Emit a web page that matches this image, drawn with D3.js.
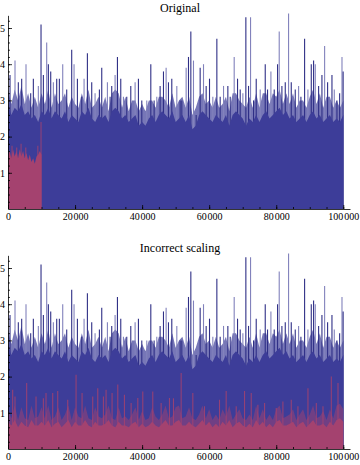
<!DOCTYPE html>
<html>
<head>
<meta charset="utf-8">
<script src="https://cdn.jsdelivr.net/npm/d3@7"></script>
<style>
    body { margin: 0; background: #fff; }
    svg { display: block; }
    .axis text { font-family: 'Liberation Serif', 'DejaVu Serif', serif; font-size: 10px; fill: #000; }
    .axis path, .axis line { stroke: #000; stroke-width: 0.8; }
    .title { font-family: 'Liberation Serif', 'DejaVu Serif', serif; font-size: 12px; }
</style>
</head>
<body>
<svg width="360" height="465"></svg>
<script>
// panel titles
const titles = ['Original', 'Incorrect scaling'];

// x ticks / y ticks
const xTicksMajor = [0, 20000, 40000, 60000, 80000, 100000];
const yTicksMajor = [1, 2, 3, 4, 5];

// blue series: dense body level and lighter fringe level, one reading every 1000
const blueBody = [2.9, 2.6, 2.8, 2.7, 2.9, 2.6, 2.7, 2.5, 2.6, 2.4, 2.7,
    2.6, 2.8, 2.5, 2.7, 2.6, 2.5, 2.7, 2.4, 2.6, 2.5,
    2.4, 2.7, 2.6, 2.8, 2.5, 2.4, 2.6, 2.5, 2.6, 2.4,
    2.7, 2.8, 2.7, 2.5, 2.6, 2.4, 2.5, 2.6, 2.3, 2.4,
    2.3, 2.5, 2.6, 2.4, 2.6, 2.7, 2.6, 2.5, 2.7, 2.4,
    2.5, 2.6, 2.4, 2.6, 2.2, 2.3, 2.6, 2.7, 2.6, 2.5,
    2.4, 2.6, 2.5, 2.4, 2.6, 2.3, 2.6, 2.7, 2.6, 2.5,
    2.3, 2.5, 2.4, 2.6, 2.4, 2.6, 2.7, 2.5, 2.6, 2.7,
    2.8, 2.6, 2.7, 2.5, 2.6, 2.4, 2.5, 2.6, 2.4, 2.6,
    2.7, 2.5, 2.6, 2.4, 2.5, 2.6, 2.4, 2.5, 2.4, 2.6];
const blueFringe = [3.3, 2.9, 3.3, 3.0, 3.4, 2.9, 3.2, 2.8, 3.1, 2.8, 3.2,
    2.9, 3.3, 2.8, 3.2, 2.9, 3.0, 3.2, 2.8, 3.1, 2.9,
    2.8, 3.2, 2.9, 3.3, 2.8, 2.9, 3.1, 2.8, 3.1, 2.7,
    3.2, 3.3, 3.2, 2.8, 3.1, 2.7, 3.0, 3.0, 2.7, 2.9,
    2.7, 3.0, 3.0, 2.8, 3.1, 3.1, 3.0, 2.8, 3.2, 2.8,
    3.0, 3.1, 2.8, 3.1, 2.6, 2.8, 3.1, 3.2, 2.9, 3.0,
    2.8, 3.1, 2.8, 2.9, 3.1, 2.7, 3.2, 3.2, 3.0, 2.9,
    2.8, 3.1, 2.8, 3.2, 2.8, 3.2, 3.2, 2.9, 3.2, 3.1,
    3.3, 2.9, 3.2, 2.9, 3.2, 2.8, 3.0, 3.0, 2.8, 3.1,
    3.3, 2.9, 3.2, 2.8, 3.1, 3.1, 2.8, 3.0, 2.8, 3.0];

// blue spikes (position, height)
const blueSpikeX = [600, 2090, 3080, 4080, 5370, 6770, 7560, 9050, 9850, 10550,
    11540, 12040, 12740, 13530, 14530, 15320, 16320, 17510, 19000, 19700,
    20700, 21990, 22690, 23680, 24970, 25970, 27260, 27960, 29650, 30450,
    30940, 31940, 32640, 33630, 34430, 35420, 36620, 37910, 38900, 39900,
    41390, 42590, 43580, 44380, 45370, 46370, 47160, 47860, 48850, 50350, 51340,
    51840, 53130, 53830, 54530, 55320, 56120, 57310, 58310, 59100, 60100,
    61090, 62290, 63280, 64280, 65570, 66270, 67460, 68460, 69250, 70050,
    70940, 71740, 72340, 73230, 74030, 75220, 76720, 77410, 78410, 79400,
    80400, 80890, 81690, 82690, 83680, 84480, 85670, 86670, 87360, 88460,
    89450, 90450, 91140, 91640, 92640, 93630, 94430, 95320, 96620, 97310,
    98110, 98910, 99610, 99950];
const blueSpikeY = [3.7, 4.1, 3.5, 3.6, 4.0, 3.2, 3.6, 3.4, 5.1, 3.7,
    4.6, 4.0, 3.8, 3.5, 3.6, 3.6, 4.0, 3.3, 4.4, 4.0,
    3.6, 3.1, 3.6, 4.3, 3.5, 3.2, 3.3, 3.9, 3.5, 3.1,
    3.4, 3.7, 4.2, 3.6, 3.1, 3.1, 3.4, 3.5, 3.6, 3.0,
    3.0, 4.0, 3.0, 3.1, 3.4, 3.8, 3.9, 3.5, 3.6, 3.4, 3.0,
    3.0, 3.9, 4.2, 4.9, 4.1, 2.6, 3.9, 4.0, 3.4, 3.6,
    3.1, 4.7, 3.1, 3.4, 3.4, 3.1, 4.2, 3.6, 3.3, 3.2,
    5.3, 3.4, 5.3, 3.0, 3.6, 3.3, 4.0, 3.3, 3.8, 3.3,
    4.0, 4.9, 3.4, 3.5, 5.4, 3.5, 3.3, 3.4, 3.1, 4.7,
    3.3, 4.0, 4.1, 4.0, 3.4, 3.7, 4.5, 3.5, 3.7, 3.3,
    3.0, 3.2, 4.2, 3.8];

// red series, top panel: only the first 10000, one reading every 500
const redTopBody = [1.5, 1.6, 1.4, 1.65, 1.45, 1.6, 1.4, 1.65, 1.45, 1.6, 1.4,
    1.55, 1.35, 1.5, 1.3, 1.4, 1.25, 1.45, 1.5, 1.6, 1.5];
const redTopSpikeX = [1200, 2600, 3900, 5300, 8900, 9850];
const redTopSpikeY = [1.75, 1.7, 1.8, 1.7, 1.75, 2.4];

// red series, bottom panel: one reading every 1000
const redBody = [0.75, 0.65, 0.8, 0.6, 0.75, 0.65, 0.6, 0.8, 0.65, 0.65, 0.75,
    0.65, 0.8, 0.6, 0.7, 0.75, 0.6, 0.7, 0.8, 0.6, 0.75,
    0.65, 0.65, 0.8, 0.65, 0.6, 0.75, 0.65, 0.65, 0.7, 0.8,
    0.65, 0.6, 0.75, 0.65, 0.65, 0.6, 0.7, 0.75, 0.6, 0.7,
    0.6, 0.65, 0.75, 0.65, 0.6, 0.7, 0.8, 0.65, 0.65, 0.75,
    0.8, 0.65, 0.65, 0.75, 0.65, 0.6, 0.7, 0.8, 0.65, 0.75,
    0.6, 0.7, 0.6, 0.75, 0.65, 0.8, 0.6, 0.7, 0.75, 0.65,
    0.6, 0.7, 0.6, 0.8, 0.65, 0.75, 0.6, 0.7, 0.6, 0.75,
    0.8, 0.65, 0.65, 0.7, 0.75, 0.6, 0.7, 0.75, 0.6, 0.7,
    0.8, 0.65, 0.65, 0.7, 0.6, 0.75, 0.65, 0.8, 0.85, 0.75];
const redFringe = [1.1, 0.85, 1.2, 0.8, 1.15, 0.85, 0.8, 1.2, 0.85, 0.9, 1.15,
    0.85, 1.2, 0.8, 0.9, 1.15, 0.8, 0.95, 1.2, 0.8, 1.15,
    0.9, 0.85, 1.2, 0.85, 0.8, 1.15, 0.9, 0.85, 0.95, 1.2,
    0.85, 0.8, 1.15, 0.85, 0.9, 0.8, 0.95, 1.15, 0.8, 1.05,
    0.8, 0.85, 1.15, 0.9, 0.8, 0.95, 1.2, 0.85, 0.9, 1.15,
    1.2, 0.85, 0.9, 1.15, 0.85, 0.8, 0.95, 1.2, 0.85, 1.1,
    0.8, 0.95, 0.8, 1.1, 0.9, 1.2, 0.8, 0.95, 1.1, 0.85,
    0.8, 0.95, 0.8, 1.2, 0.85, 1.1, 0.8, 0.95, 0.8, 1.1,
    1.2, 0.85, 0.9, 0.95, 1.1, 0.8, 0.95, 1.1, 0.8, 0.95,
    1.2, 0.85, 0.9, 1.05, 0.8, 1.1, 0.85, 1.2, 1.25, 1.1];
const redSpikeX = [1390, 2090, 5570, 8360, 10550, 11340, 13330, 14830, 17810, 20300,
    22090, 25270, 26770, 28460, 29250, 31040, 32740, 34730, 36720, 38710,
    40200, 43180, 45670, 48160, 49350, 51640, 55120, 58610, 63080, 65070,
    68060, 70550, 72540, 74530, 76520, 80000, 81990, 84480, 86470, 89460,
    91950, 93940, 96430, 98420];
const redSpikeY = [1.64, 1.45, 1.82, 1.45, 1.4, 1.55, 1.55, 1.6, 1.36, 2.05,
    1.55, 1.45, 1.68, 1.45, 1.64, 1.55, 1.78, 1.5, 1.27, 1.41,
    1.59, 1.59, 1.27, 1.41, 1.4, 2.1, 1.55, 1.18, 1.36, 1.6,
    1.18, 1.6, 1.55, 1.22, 1.27, 1.13, 1.31, 1.36, 1.18, 1.68,
    1.27, 1.18, 2.0, 1.82];

function main() {
    let svg = d3.select('svg');
    let blue = '#3d3d99',
        red = '#a4426f';

    let xScale = d3.scaleLinear().domain([0, 102000]).range([8, 350]);
    let fmt = d3.formatLocale({ decimal: '.', thousands: '\u200a', grouping: [3], currency: ['', ''] }).format(',');

    let blueX = d3.range(blueBody.length).map((i) => i * 1000);
    let redTopX = d3.range(redTopBody.length).map((i) => i * 500);

    let panels = [
        { top: 209, title: titles[0], titleY: 12, red: 'top' },
        { top: 449, title: titles[1], titleY: 252, red: 'all' }
    ];

    panels.forEach((p) => {
        let yScale = d3.scaleLinear().domain([0, 5.35]).range([p.top, p.top - 5.35 * 36.2]);
        let g = svg.append('g');

        let area = (xs, ys) => d3.area()
            .x((d, i) => xScale(xs[i]))
            .y0(yScale(0))
            .y1((d) => yScale(d))(ys);

        let spikes = (xs, ys, colour, op) => {
            g.append('g')
                .selectAll('line')
                .data(d3.zip(xs, ys))
                .enter()
                .append('line')
                .attr('x1', (d) => xScale(d[0]))
                .attr('x2', (d) => xScale(d[0]))
                .attr('y1', yScale(0))
                .attr('y2', (d) => yScale(d[1]))
                .attr('stroke', colour)
                .attr('stroke-opacity', op)
                .attr('stroke-width', 1.1);
        };

        //Blue: fringe, spikes, body
        g.append('path').attr('d', area(blueX, blueFringe)).attr('fill', blue).attr('opacity', 0.7);
        g.append('g')
            .selectAll('line')
            .data(d3.zip(blueSpikeX, blueSpikeY))
            .enter()
            .append('line')
            .attr('x1', (d) => xScale(d[0]))
            .attr('x2', (d) => xScale(d[0]))
            .attr('y1', yScale(0))
            .attr('y2', (d) => yScale(d[1]))
            .attr('stroke', (d, i) => (i % 3 === 1 ? '#8282bc' : '#2f2f86'))
            .attr('stroke-width', 1.1);
        g.append('path').attr('d', area(blueX, blueBody)).attr('fill', blue);

        //Red
        if (p.red === 'top') {
            spikes(redTopSpikeX, redTopSpikeY, red, 0.8);
            g.append('path').attr('d', area(redTopX, redTopBody)).attr('fill', red);
        } else {
            g.append('path').attr('d', area(blueX, redFringe)).attr('fill', red).attr('opacity', 0.5);
            spikes(redSpikeX, redSpikeY, red, 0.85);
            g.append('path').attr('d', area(blueX, redBody)).attr('fill', red);
        }

        //X Axis (minor then major)
        g.append('g')
            .attr('class', 'axis')
            .attr('transform', 'translate(0,' + p.top + ')')
            .call(d3.axisBottom(xScale).tickValues(d3.range(5000, 101000, 5000)).tickSize(-2).tickSizeOuter(0).tickFormat(''));
        g.append('g')
            .attr('class', 'axis')
            .attr('transform', 'translate(0,' + p.top + ')')
            .call(d3.axisBottom(xScale).tickValues(xTicksMajor).tickSize(-4).tickSizeOuter(0).tickPadding(4).tickFormat(fmt))
            .select('.domain').remove();

        //Y Axis
        g.append('g')
            .attr('class', 'axis')
            .attr('transform', 'translate(8,0)')
            .call(d3.axisLeft(yScale).tickValues(d3.range(0.2, 5.3, 0.2)).tickSize(-2).tickSizeOuter(0).tickFormat(''));
        g.append('g')
            .attr('class', 'axis')
            .attr('transform', 'translate(8,0)')
            .call(d3.axisLeft(yScale).tickValues(yTicksMajor).tickSize(-4).tickSizeOuter(0).tickPadding(3).tickFormat(d3.format('d')))
            .select('.domain').remove();

        //Title
        svg.append('text')
            .attr('class', 'title')
            .attr('text-anchor', 'middle')
            .attr('x', 180)
            .attr('y', p.titleY)
            .text(p.title);
    });
}

main();
</script>
</body>
</html>
